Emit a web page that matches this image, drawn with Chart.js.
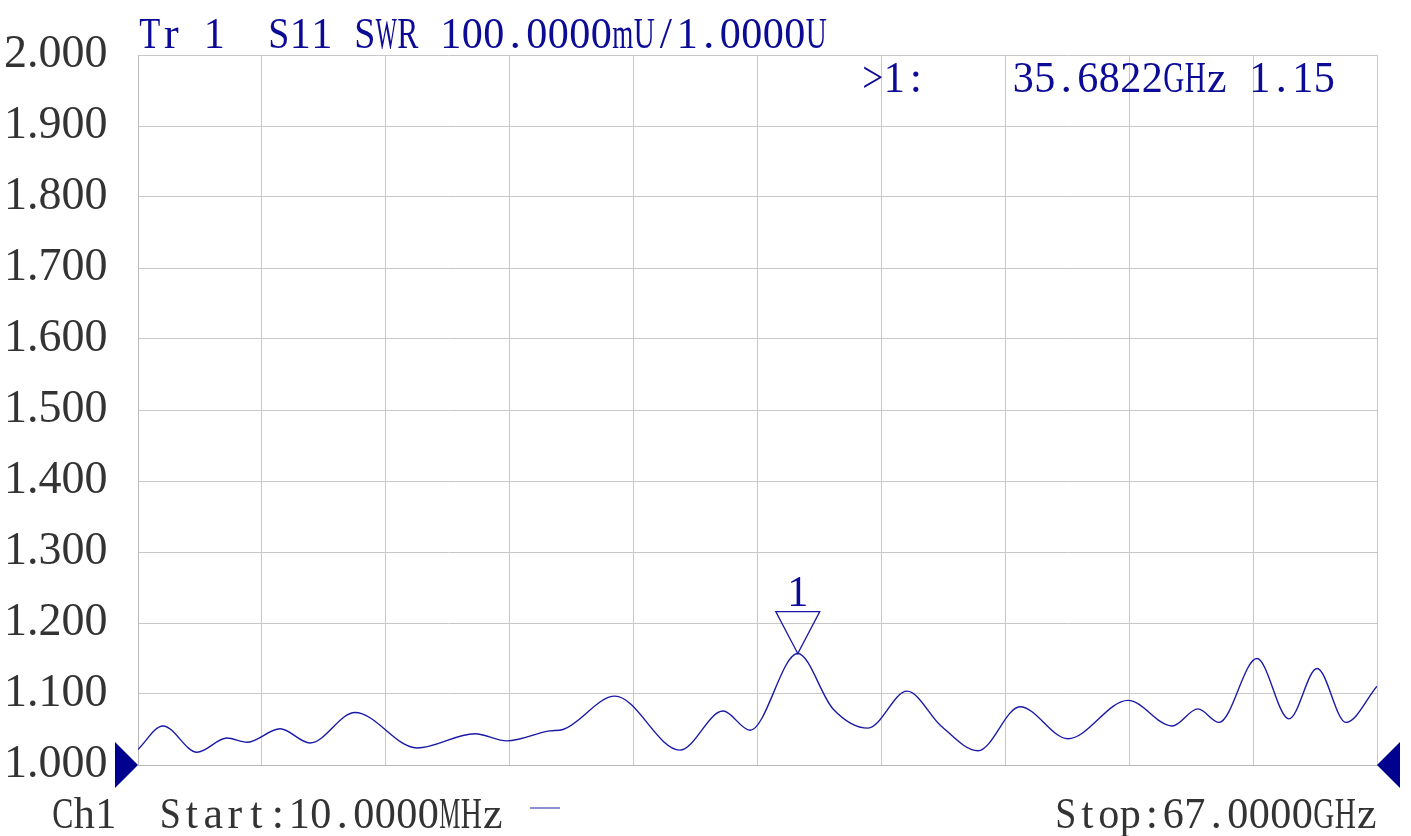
<!DOCTYPE html>
<html>
<head>
<meta charset="utf-8">
<script src="https://cdn.jsdelivr.net/npm/chart.js@4/dist/chart.umd.min.js"></script>
<style>
  html, body { margin: 0; padding: 0; background: #ffffff; }
  #wrap { width: 1411px; height: 836px; position: relative; }
</style>
</head>
<body>
<div id="wrap"><canvas id="c" width="1411" height="836"></canvas></div>
<script>
// ---- data ----
const freqGHz = [0.01, 1.36, 3.20, 4.82, 5.90, 7.69, 9.31, 11.74, 15.09, 18.23, 19.96, 22.29, 22.99,
  25.80, 29.31, 31.64, 33.10, 35.68, 37.59, 39.48, 41.59, 43.43, 45.43, 47.70,
  50.29, 53.54, 55.92, 57.32, 58.46, 60.51, 62.24, 63.76, 65.32, 67.00];
const swr = [1.022, 1.055, 1.018, 1.038, 1.032, 1.051, 1.031, 1.074, 1.024, 1.044, 1.034, 1.048, 1.050,
  1.097, 1.021, 1.076, 1.049, 1.157, 1.079, 1.052, 1.104, 1.055, 1.020, 1.082,
  1.037, 1.091, 1.055, 1.079, 1.060, 1.150, 1.065, 1.136, 1.060, 1.111];
const startGHz = 0.01;
const stopGHz = 67.0;
const yMin = 1.0, yMax = 2.0, yStep = 0.1;
const xDivisions = 10;
const markerFreq = 35.6822;
const markerValue = 1.157;
const markerLabel = "1";
const titleText = "Tr 1  S11 SWR 100.0000mU/1.0000U";
const markerText = ">1:    35.6822GHz 1.15";
const bottomLeftText = "Ch1  Start:10.0000MHz";
const bottomRightText = "Stop:67.0000GHz";

const BLUE_TEXT = '#0b0b96';
const TRACE = '#1a1aa6';
const GRAY_TEXT = '#333333';
const GRID = '#c8c8c8';
const SERIF = '"Liberation Serif", "DejaVu Serif", serif';

// draw text in fixed-width character cells (instrument-style font)
function drawMono(ctx, text, x0, y, cell, size, color) {
  ctx.save();
  ctx.font = size + 'px ' + SERIF;
  ctx.fillStyle = color;
  ctx.textBaseline = 'alphabetic';
  ctx.textAlign = 'center';
  for (let i = 0; i < text.length; i++) {
    const ch = text[i];
    if (ch === ' ') continue;
    const w = ctx.measureText(ch).width;
    const maxW = cell * 0.98;
    const s = w > maxW ? maxW / w : 1;
    ctx.save();
    ctx.translate(x0 + (i + 0.5) * cell, y);
    ctx.scale(s, 1);
    ctx.fillText(ch, 0, 0);
    ctx.restore();
  }
  ctx.restore();
}

const overlay = {
  id: 'overlay',
  afterDraw(chart) {
    const ctx = chart.ctx;
    const xs = chart.scales.x, ys = chart.scales.y;
    const area = chart.chartArea;
    drawMono(ctx, titleText, 139, 48, 21.5, 44, BLUE_TEXT);
    drawMono(ctx, markerText, 862, 92, 21.5, 44, BLUE_TEXT);
    drawMono(ctx, bottomLeftText, 52, 828, 21.5, 44, GRAY_TEXT);
    drawMono(ctx, bottomRightText, 1055, 828, 21.5, 44, GRAY_TEXT);
    ctx.save();
    ctx.strokeStyle = '#6a6ac8';
    ctx.lineWidth = 1.5;
    ctx.beginPath(); ctx.moveTo(530, 808); ctx.lineTo(560, 808); ctx.stroke();
    ctx.restore();
    // reference triangles
    const yb = ys.getPixelForValue(yMin);
    ctx.save();
    ctx.fillStyle = '#00008f';
    ctx.beginPath();
    ctx.moveTo(area.left - 23, yb - 23); ctx.lineTo(area.left, yb); ctx.lineTo(area.left - 23, yb + 23);
    ctx.closePath(); ctx.fill();
    ctx.beginPath();
    ctx.moveTo(area.right + 23, yb - 23); ctx.lineTo(area.right, yb); ctx.lineTo(area.right + 23, yb + 23);
    ctx.closePath(); ctx.fill();
    ctx.restore();
    // marker triangle
    const mx = xs.getPixelForValue(markerFreq);
    const my = ys.getPixelForValue(markerValue);
    ctx.save();
    ctx.strokeStyle = TRACE;
    ctx.lineWidth = 1.3;
    ctx.beginPath();
    ctx.moveTo(mx, my); ctx.lineTo(mx - 22, my - 42); ctx.lineTo(mx + 22, my - 42); ctx.closePath();
    ctx.stroke();
    ctx.restore();
    drawMono(ctx, markerLabel, mx - 10.75, my - 48, 21.5, 44, BLUE_TEXT);
  }
};

const points = freqGHz.map((f, i) => ({ x: f, y: swr[i] }));

new Chart(document.getElementById('c'), {
  type: 'line',
  data: {
    datasets: [{
      data: points,
      borderColor: TRACE,
      borderWidth: 1.4,
      pointRadius: 0,
      fill: false,
      cubicInterpolationMode: 'monotone'
    }]
  },
  options: {
    responsive: false,
    animation: false,
    devicePixelRatio: 1,
    layout: { padding: { top: 55, right: 34, bottom: 71, left: 4 } },
    plugins: { legend: { display: false }, tooltip: { enabled: false } },
    scales: {
      x: {
        type: 'linear',
        min: startGHz,
        max: stopGHz,
        afterBuildTicks(scale) {
          const t = [];
          for (let i = 0; i <= xDivisions; i++) t.push({ value: startGHz + (stopGHz - startGHz) * i / xDivisions });
          scale.ticks = t;
        },
        afterFit(scale) { scale.height = 0; },
        ticks: { display: false },
        grid: { color: GRID, lineWidth: 1, drawTicks: false },
        border: { color: '#b8b8b8', width: 1 }
      },
      y: {
        min: yMin,
        max: yMax,
        afterFit(scale) { scale.width = 134; },
        ticks: {
          stepSize: yStep,
          crossAlign: 'far',
          padding: 0,
          color: GRAY_TEXT,
          font: { family: SERIF, size: 46 },
          callback: (v) => Number(v).toFixed(3)
        },
        grid: { color: GRID, lineWidth: 1, drawTicks: false },
        border: { color: '#b8b8b8', width: 1 }
      }
    }
  },
  plugins: [overlay]
});
</script>
</body>
</html>
